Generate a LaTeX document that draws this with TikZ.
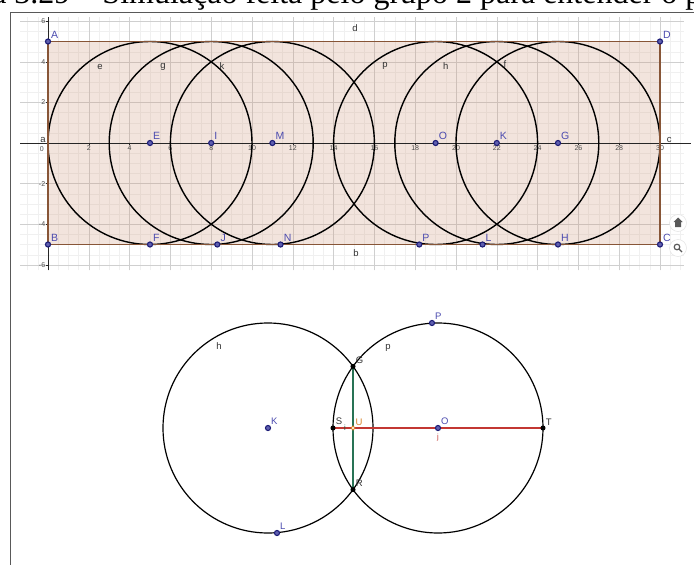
\documentclass[tikz,border=0pt]{standalone}
\usepackage{fontspec}
\setmainfont{Liberation Serif}
\setsansfont{Liberation Sans}
\usetikzlibrary{positioning, backgrounds}

\definecolor{ptblue}{RGB}{30,30,120}
\definecolor{ptfill}{RGB}{95,95,175}
\definecolor{lblblue}{RGB}{75,75,175}
\definecolor{edgebrown}{RGB}{135,85,55}
\definecolor{rectfill}{RGB}{205,150,120}
\definecolor{segred}{RGB}{195,55,50}
\definecolor{seggreen}{RGB}{40,115,85}
\definecolor{uorange}{RGB}{215,130,40}

\begin{document}
\begin{tikzpicture}[x=1pt, y=-1pt,
gpt/.style={circle, draw=ptblue, fill=ptfill, line width=1.1pt, inner sep=1.8pt},
bpt/.style={circle, fill=black, inner sep=1.8pt},
upt/.style={circle, draw=uorange, fill=white, line width=0.9pt, inner sep=1.4pt},
lbl/.style={font=\sffamily\fontsize{10.5}{12}\selectfont, text=lblblue, inner sep=0.8pt},
dlbl/.style={font=\sffamily\fontsize{9.5}{11}\selectfont, text=lblblue, inner sep=0.8pt},
objname/.style={font=\sffamily\fontsize{9.5}{11}\selectfont, text=black!80, inner sep=0pt},
ticklbl/.style={font=\sffamily\fontsize{7}{8}\selectfont, text=black!70, inner sep=0.6pt},
gridminor/.style={gray!12, line width=0.3pt},
gridmajor/.style={gray!38, line width=0.45pt},
axis/.style={black!85, line width=0.6pt},
circ/.style={black, line width=1.4pt},
edge/.style={edgebrown, line width=1.6pt}
]
\useasboundingbox (0,0) rectangle (694,565);
\begin{pgfonlayer}{background}
\fill[white] (0,0) rectangle (694,565);
\end{pgfonlayer}

% caption, cut by the page
\node (caption) [anchor=base west, font=\fontsize{32}{38}\selectfont] at (-80.6,3.5) {Figura 3.29 – Simulação feita pelo grupo 2 para entender o processo};
\draw[black!65, line width=0.8pt] (10,565) -- (10,12) -- (694,12);

% GeoGebra view
\begin{scope}[shift={(48,143)}, x=20.4pt, y=20.3pt]
\node (A) [gpt, label={[lbl]above right:A}] at (0,5) {};
\node (B) [gpt, label={[lbl]above right:B}] at (0,-5) {};
\node (C) [gpt, label={[lbl]above right:C}] at (30,-5) {};
\node (D) [gpt, label={[lbl]above right:D}] at (30,5) {};
\node (E) [gpt, label={[lbl]above right:E}] at (5,0) {};
\node (I) [gpt, label={[lbl]above right:I}] at (8,0) {};
\node (M) [gpt, label={[lbl]above right:M}] at (11,0) {};
\node (O) [gpt, label={[lbl]above right:O}] at (19,0) {};
\node (K) [gpt, label={[lbl]above right:K}] at (22,0) {};
\node (G) [gpt, label={[lbl]above right:G}] at (25,0) {};
\node (F) [gpt, label={[lbl]above right:F}] at (5,-5) {};
\node (J) [gpt, label={[lbl]above right:J}] at (8.3,-5) {};
\node (N) [gpt, label={[lbl]above right:N}] at (11.4,-5) {};
\node (P) [gpt, label={[lbl]above right:P}] at (18.2,-5) {};
\node (L) [gpt, label={[lbl]above right:L}] at (21.3,-5) {};
\node (H) [gpt, label={[lbl]above right:H}] at (25,-5) {};

% names of the objects
\node (nd) [objname] at (15.05,5.67) {d};
\node (nb) [objname] at (15.1,-5.42) {b};
\node (na) [objname] at (-0.25,0.15) {a};
\node (nc) [objname] at (30.45,0.15) {c};
\node (ne) [objname] at (2.55,3.74) {e};
\node (ng) [objname] at (5.64,3.74) {g};
\node (nk) [objname] at (8.53,3.79) {k};
\node (np) [objname] at (16.52,3.79) {p};
\node (nh) [objname] at (19.5,3.79) {h};
\node (nf) [objname] at (22.4,3.89) {f};

\begin{pgfonlayer}{background}
\draw[gridminor] (-1.37,-6.27) grid[step=0.5] (31.2,6.2);
\draw[gridmajor] (-1.37,-6.27) grid[step=2] (31.2,6.2);
\fill[rectfill, fill opacity=0.25] (A.center) rectangle (C.center);
\draw[axis] (-1.37,0) -- (31.5,0);
\draw[axis] (0,-6.27) -- (0,6.2);
\foreach \t in {2,4,...,30} {
  \draw[axis] (\t,0) -- (\t,-0.1);
  \node[ticklbl, below] at (\t,-0.1) {\t};
}
\foreach \t in {-6,-4,-2,2,4,6} {
  \draw[axis] (0,\t) -- (-0.1,\t);
  \node[ticklbl, left] at (-0.1,\t) {\t};
}
\node[ticklbl] at (-0.3,-0.3) {0};
\foreach \c in {E,I,M,O,K,G}
  \draw[circ] (\c.center) circle[radius=5];
\draw[edge] (A.center) -- (B.center) -- (C.center) -- (D.center) -- cycle;
\end{pgfonlayer}
\end{scope}

% view buttons
\node (homebtn) [circle, draw=gray!25, fill=white, minimum size=17pt, inner sep=0pt] at (678,223) {};
\node (zoombtn) [circle, draw=gray!25, fill=white, minimum size=17pt, inner sep=0pt] at (678,248) {};
\fill[black!65] (673.5,222) -- (678,217.5) -- (682.5,222) -- (681,222) -- (681,227) -- (675,227) -- (675,222) -- cycle;
\draw[black!65, line width=1.2pt] (677,247) circle[radius=2.8] (679,249) -- (682,252);

% detail of the circles h and p
\node (dK) [gpt, label={[dlbl]above right:K}] at (268,428) {};
\node (dO) [gpt, label={[dlbl]above right:O}] at (438,428) {};
\node (dL) [gpt, label={[dlbl]above right:L}] at (277,533) {};
\node (dP) [gpt, label={[dlbl]above right:P}] at (432,323) {};
\node (dG) [bpt, label={[dlbl, text=black!80]above right:G}] at (353,366.4) {};
\node (dR) [bpt, label={[dlbl, text=black!80]above right:R}] at (353,489.6) {};
\node (dS) [bpt, label={[dlbl, text=black!80]above right:S}] at (333,428) {};
\node (dT) [bpt, label={[dlbl, text=black!80]above right:T}] at (543,428) {};
\node (dU) [upt, label={[dlbl, text=uorange]above right:U}] at (353,428) {};

\node (dh) [objname] at (219,346) {h};
\node (dp) [objname] at (388,348) {p};
\node (di) [objname, font=\sffamily\fontsize{7.5}{9}\selectfont, text=seggreen!70!black] at (345,428) {i};
\node (dj) [objname, font=\sffamily\fontsize{7.5}{9}\selectfont, text=segred] at (438,438) {j};

\begin{pgfonlayer}{background}
\draw[circ, line width=1.2pt] (dK.center) circle[radius=105];
\draw[circ, line width=1.2pt] (dO.center) circle[radius=105];
\draw[segred, line width=1.2pt] (dS.center) -- (dT.center);
\draw[seggreen, line width=1.2pt] (dG.center) -- (dR.center);
\end{pgfonlayer}
\end{tikzpicture}
\end{document}
